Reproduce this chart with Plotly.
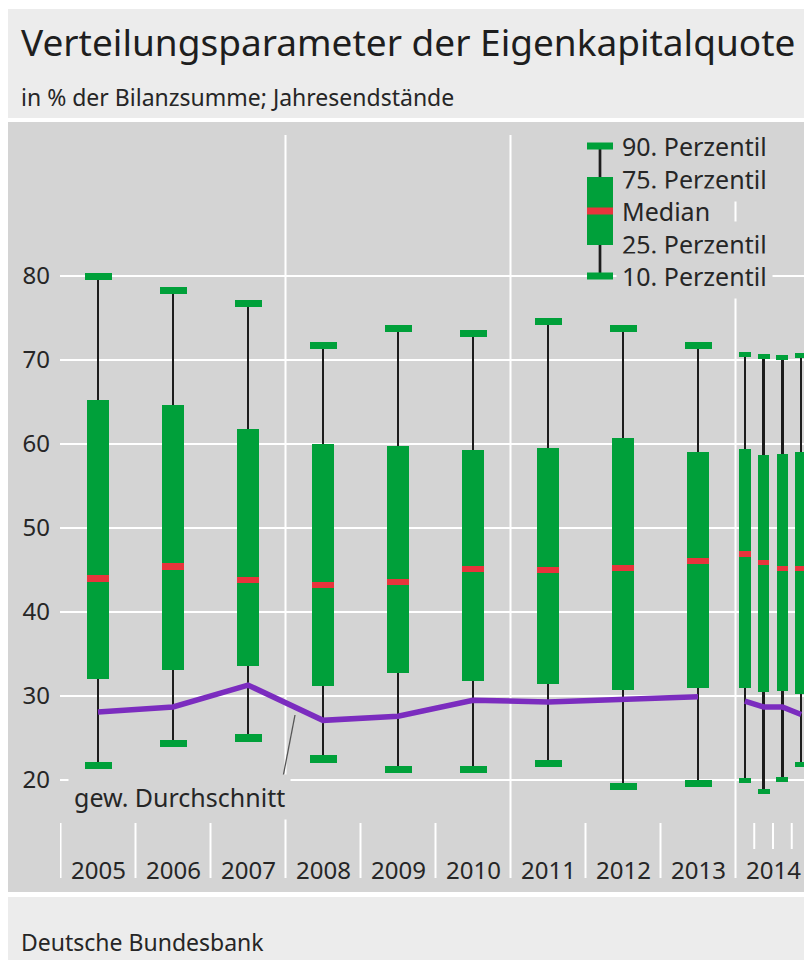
import plotly.graph_objects as go

# ---------------- data ----------------
categories = ["2005", "2006", "2007", "2008", "2009", "2010", "2011", "2012", "2013",
              "2014 Q1", "2014 Q2", "2014 Q3", "2014 Q4"]
year_labels = ["2005", "2006", "2007", "2008", "2009", "2010", "2011", "2012", "2013", "2014"]
p90 = [79.9, 78.3, 76.7, 71.7, 73.8, 73.2, 74.6, 73.7, 71.7, 70.6, 70.4, 70.3, 70.5]
p75 = [65.2, 64.6, 61.8, 60.0, 59.8, 59.3, 59.5, 60.7, 59.0, 59.4, 58.7, 58.8, 59.1]
median = [44.0, 45.4, 43.8, 43.2, 43.6, 45.1, 45.0, 45.2, 46.1, 46.9, 45.9, 45.2, 45.2]
p25 = [32.0, 33.1, 33.6, 31.2, 32.7, 31.8, 31.4, 30.7, 31.0, 30.9, 30.5, 30.6, 30.2]
p10 = [21.7, 24.3, 25.0, 22.5, 21.3, 21.3, 22.0, 19.2, 19.6, 19.9, 18.6, 20.1, 21.9]
mean = [28.1, 28.7, 31.3, 27.1, 27.6, 29.5, 29.3, 29.6, 29.9, 29.4, 28.7, 28.7, 27.8]
y_ticks = [20, 30, 40, 50, 60, 70, 80]
legend_labels = ["90. Perzentil", "75. Perzentil", "Median", "25. Perzentil", "10. Perzentil"]

TITLE = "Verteilungsparameter der Eigenkapitalquote"
SUBTITLE = "in % der Bilanzsumme; Jahresendstände"
SOURCE = "Deutsche Bundesbank"
MEAN_LABEL = "gew. Durchschnitt"

# ---------------- style ----------------
W, H = 812, 960
OFF = 8                   # page margin: figure origin sits at window (8, 8)
FONT = "Noto Sans"
TXT = "#262626"
GREEN = "#00a03a"
RED = "#e8343c"
BLACK = "#1c1c1c"
PURPLE = "#7b2cbf"
PANEL = "#d4d4d4"
LIGHT = "#ececec"


def px(x):
    return (x - OFF) / W


def py(y):
    return 1 - (y - OFF) / H


# x positions: years at integer slots, 2014 split in quarters
n_years = 9
xpos = list(range(n_years)) + [n_years - 0.5 + 0.25 * (q + 0.5) for q in range(4)]
is_q = [False] * n_years + [True] * 4
box_w = [0.155 if q else 0.30 for q in is_q]
cap_w = [0.16 if q else 0.36 for q in is_q]
cap_h = [0.6 if q else 0.85 for q in is_q]
med_h = [0.65 if q else 0.75 for q in is_q]
wh_w = [0.032 if q else 0.037 for q in is_q]

X0, DX = 98.0, 75.0      # window pixel of slot 0, pixels per slot
Y0, DY = 948.0, 8.4      # window pixel of value 0, pixels per unit

fig = go.Figure()

# whiskers
fig.add_trace(go.Bar(x=xpos, base=p10, y=[a - b for a, b in zip(p90, p10)], width=wh_w,
                     marker=dict(color=BLACK, line=dict(width=0)), hoverinfo="skip"))
# boxes
fig.add_trace(go.Bar(x=xpos, base=p25, y=[a - b for a, b in zip(p75, p25)], width=box_w,
                     marker=dict(color=GREEN, line=dict(width=0)), hoverinfo="skip"))
# caps
fig.add_trace(go.Bar(x=xpos, base=[v - h / 2 for v, h in zip(p90, cap_h)], y=cap_h, width=cap_w,
                     marker=dict(color=GREEN, line=dict(width=0)), hoverinfo="skip"))
fig.add_trace(go.Bar(x=xpos, base=[v - h / 2 for v, h in zip(p10, cap_h)], y=cap_h, width=cap_w,
                     marker=dict(color=GREEN, line=dict(width=0)), hoverinfo="skip"))
# medians
fig.add_trace(go.Bar(x=xpos, base=[v - h / 2 for v, h in zip(median, med_h)], y=med_h, width=box_w,
                     marker=dict(color=RED, line=dict(width=0)), hoverinfo="skip"))
# weighted mean line (annual segment, then quarterly segment)
mx = xpos[:n_years] + [None] + xpos[n_years:]
my = mean[:n_years] + [None] + mean[n_years:]
fig.add_trace(go.Scatter(x=mx, y=my, mode="lines", line=dict(color=PURPLE, width=5.5),
                         connectgaps=False, hoverinfo="skip"))

shapes = []
# background panels
shapes.append(dict(type="rect", xref="paper", yref="paper", x0=px(8), x1=1, y0=py(118), y1=py(9),
                   fillcolor=LIGHT, line=dict(width=0), layer="below"))
shapes.append(dict(type="rect", xref="paper", yref="paper", x0=px(8), x1=1, y0=py(892), y1=py(122),
                   fillcolor=PANEL, line=dict(width=0), layer="below"))
shapes.append(dict(type="rect", xref="paper", yref="paper", x0=px(8), x1=1, y0=0, y1=py(897),
                   fillcolor=LIGHT, line=dict(width=0), layer="below"))
# year separators
for i in range(n_years + 2):
    b = i - 0.5
    full = i in (3, 6, 9)
    shapes.append(dict(type="line", xref="x", yref="paper", x0=b, x1=b,
                       y0=py(878), y1=py(135) if full else py(823),
                       line=dict(color="white", width=2), layer="below"))
# quarter separators of 2014
for q in range(1, 4):
    b = n_years - 0.5 + 0.25 * q
    shapes.append(dict(type="line", xref="x", yref="paper", x0=b, x1=b,
                       y0=py(849), y1=py(823), line=dict(color="white", width=2), layer="below"))

# leader line of the mean label
shapes.append(dict(type="line", xref="x", yref="y",
                   x0=(283 - X0) / DX, y0=(Y0 - 777) / DY, x1=(295 - X0) / DX, y1=(Y0 - 715) / DY,
                   line=dict(color="#555555", width=1.3), layer="above"))

# legend key
lx0, lx1, lxc = 587, 613, 600
shapes.append(dict(type="line", xref="paper", yref="paper", x0=px(lxc), x1=px(lxc),
                   y0=py(148), y1=py(276), line=dict(color=BLACK, width=2.7), layer="above"))
for (t, b, c) in [(142.5, 149.5, GREEN), (177, 245, GREEN), (207.5, 214.5, RED), (272.5, 279.5, GREEN)]:
    shapes.append(dict(type="rect", xref="paper", yref="paper", x0=px(lx0), x1=px(lx1),
                       y0=py(b), y1=py(t), fillcolor=c, line=dict(width=0), layer="above"))

annotations = []
annotations.append(dict(text=TITLE, xref="paper", yref="paper", x=px(19), y=py(41),
                        xanchor="left", yanchor="middle", showarrow=False,
                        font=dict(family=FONT, size=37, color="#1e1e1e")))
annotations.append(dict(text=SUBTITLE, xref="paper", yref="paper", x=px(19), y=py(97),
                        xanchor="left", yanchor="middle", showarrow=False,
                        font=dict(family=FONT, size=23, color=TXT)))
annotations.append(dict(text=SOURCE, xref="paper", yref="paper", x=px(19), y=py(942),
                        xanchor="left", yanchor="middle", showarrow=False,
                        font=dict(family=FONT, size=23, color=TXT)))
# year labels
for i, lab in enumerate(year_labels):
    annotations.append(dict(text=lab, xref="x", yref="paper", x=i, y=py(869),
                            xanchor="center", yanchor="middle", showarrow=False,
                            font=dict(family=FONT, size=24, color=TXT)))
# legend labels
for k, lab in enumerate(legend_labels):
    annotations.append(dict(text=lab, xref="paper", yref="paper", x=px(616), y=py(146 + 32.5 * k),
                            xanchor="left", yanchor="middle", showarrow=False, bgcolor=PANEL,
                            borderpad=5, font=dict(family=FONT, size=25, color=TXT)))
# mean label
annotations.append(dict(text=MEAN_LABEL, xref="paper", yref="paper", x=px(68), y=py(797),
                        xanchor="left", yanchor="middle", showarrow=False, bgcolor=PANEL,
                        borderpad=5, font=dict(family=FONT, size=25, color=TXT)))

fig.update_layout(
    width=W, height=H,
    margin=dict(l=0, r=0, t=0, b=0),
    paper_bgcolor="white", plot_bgcolor="rgba(0,0,0,0)",
    barmode="overlay", bargap=0, showlegend=False,
    shapes=shapes, annotations=annotations,
    xaxis=dict(domain=[px(60), 1], range=[(60 - X0) / DX, (W + OFF - X0) / DX],
               showgrid=False, zeroline=False, showticklabels=False, showline=False, fixedrange=True),
    yaxis=dict(domain=[py(892), py(122)], range=[(Y0 - 892) / DY, (Y0 - 122) / DY],
               tickvals=y_ticks, ticktext=[str(v) for v in y_ticks], ticks="",
               showgrid=True, gridcolor="white", gridwidth=2, zeroline=False, showline=False,
               ticklabelstandoff=9, tickfont=dict(family=FONT, size=24, color=TXT), fixedrange=True),
)

fig.write_html("out.html")
